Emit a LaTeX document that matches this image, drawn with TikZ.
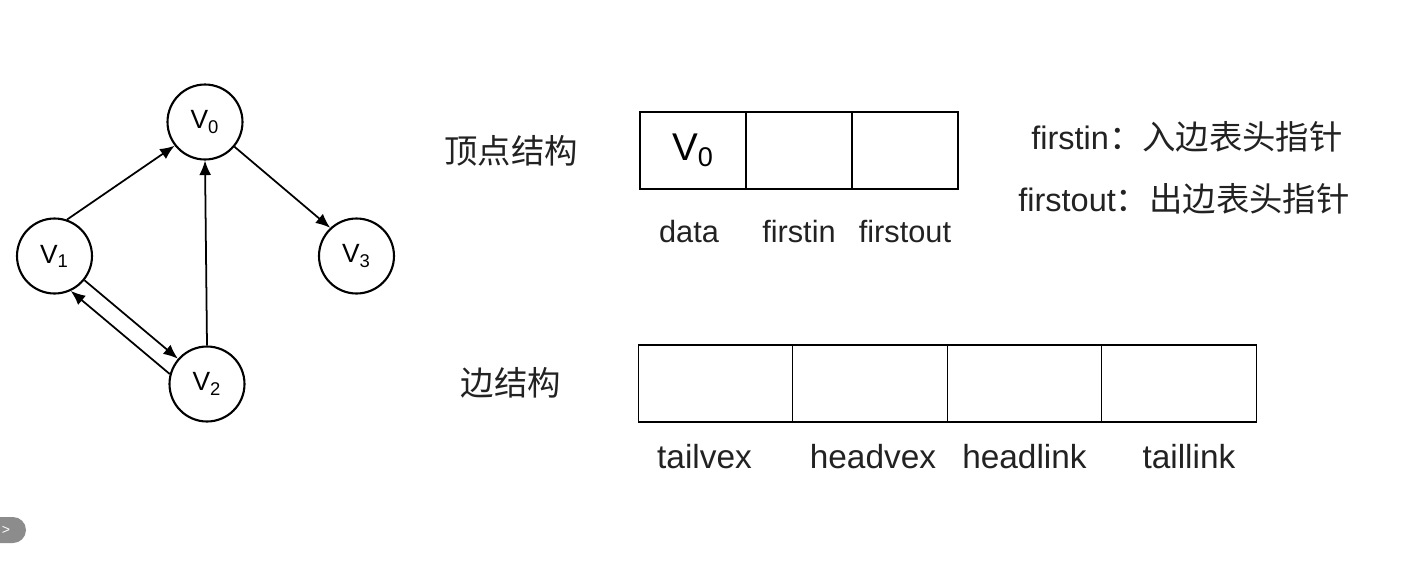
\documentclass[tikz,border=0pt]{standalone}
\usepackage{fontspec}
\setmainfont{Liberation Sans}
\newfontfamily\cjk{Noto Sans CJK SC}
\usetikzlibrary{positioning,arrows.meta}

\definecolor{inkgray}{HTML}{222222}
\definecolor{pillgray}{HTML}{8C8C8C}

\tikzset{
  vertex/.style={circle, draw, line width=1.2pt, minimum size=1.5cm, inner sep=0pt,
    font=\fontsize{15}{17}\selectfont},
  edge/.style={-{Latex[length=2.9mm,width=2.4mm]}, line width=1pt},
  vcell/.style={rectangle, draw, line width=0.7pt, minimum width=2.12cm, minimum height=1.54cm,
    outer sep=0pt, inner sep=0pt, font=\fontsize{22}{24}\selectfont},
  ecell/.style={vcell, minimum width=3.09cm},
  vfield/.style={text=inkgray, inner sep=0pt, text height=0.75em, text depth=0.2em,
    font=\fontsize{17.5}{20}\selectfont},
  efield/.style={vfield, font=\fontsize{19}{22}\selectfont},
  title/.style={text=inkgray, font=\cjk\fontsize{19}{22}\selectfont},
  note/.style={text=inkgray, anchor=west, inner sep=0pt, font=\fontsize{18.5}{22}\selectfont}
}

\begin{document}
\begin{tikzpicture}[x=0.02cm, y=-0.02cm]
  \useasboundingbox (0,0) rectangle (1404,579);

  % Graph of four vertices
  \node[vertex] (v0) at (205,122) {V\textsubscript{0}};
  \node[vertex] (v1) at (54.5,256) {V\textsubscript{1}};
  \node[vertex] (v2) at (207,384) {V\textsubscript{2}};
  \node[vertex] (v3) at (356.5,256) {V\textsubscript{3}};

  % Arcs
  \draw[edge] (v1.71) -- (v0.218);
  \draw[edge] (v2.north) -- (v0.south);
  \draw[edge] (v0.-40) -- (v3.133);
  \draw[edge] (v1.-39) -- (v2.139);
  \draw[edge] (v2.165) -- (v1.-65);

  % Vertex structure
  \node[title] (vtitle) at (511,151) {顶点结构};
  \node[vcell] (vdata) at (693,150.5) {V\textsubscript{0}};
  \node[vcell, right=0pt of vdata] (vin) {};
  \node[vcell, right=0pt of vin] (vout) {};
  \node[vfield, below=0.8cm of vdata, xshift=-0.08cm] (ldata) {data};
  \node[vfield, below=0.8cm of vin] (lin) {firstin};
  \node[vfield, below=0.8cm of vout] (lout) {firstout};

  % Notes on the pointers
  \node[note] (nin) at (1031,137) {firstin{\cjk\fontsize{19}{22}\selectfont ：入边表头指针}};
  \node[note] (nout) at (1018,199) {firstout{\cjk\fontsize{19}{22}\selectfont ：出边表头指针}};

  % Edge structure
  \node[title] (etitle) at (511,383) {边结构};
  \node[ecell] (etail) at (715.5,383.5) {};
  \node[ecell, right=0pt of etail] (ehead) {};
  \node[ecell, right=0pt of ehead] (ehlink) {};
  \node[ecell, right=0pt of ehlink] (etlink) {};
  \node[efield, below=0.66cm of etail, xshift=-0.22cm] (ltail) {tailvex};
  \node[efield, below=0.66cm of ehead, xshift=0.06cm] (lhead) {headvex};
  \node[efield, below=0.66cm of ehlink] (lhlink) {headlink};
  \node[efield, below=0.66cm of etlink, xshift=0.2cm] (ltlink) {taillink};

  % Side tab
  \fill[pillgray, rounded corners=0.26cm] (-20,517) rectangle (26,543);
  \node[white, font=\fontsize{8}{8}\selectfont] (tab) at (6,530) {>};
\end{tikzpicture}
\end{document}
